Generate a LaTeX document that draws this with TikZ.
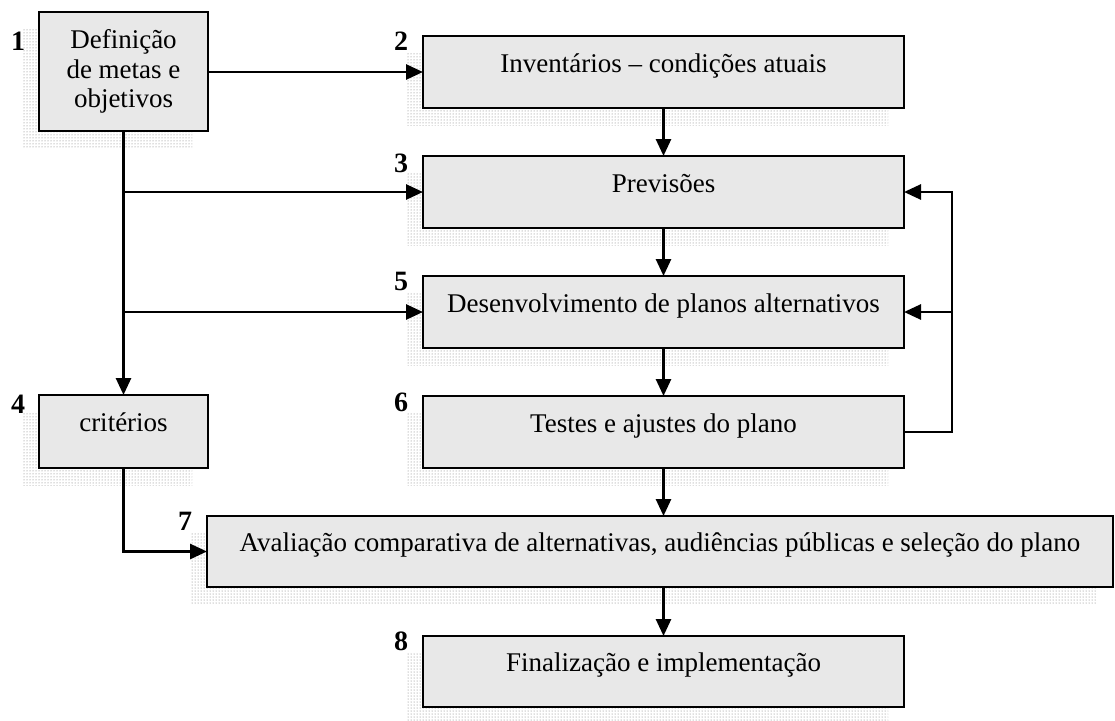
\documentclass[tikz,border=0pt]{standalone}
\usepackage{fontspec}
\setmainfont{Liberation Serif}
\usetikzlibrary{arrows.meta,patterns,backgrounds}
\definecolor{boxfill}{RGB}{232,232,232}
\begin{document}
\begin{tikzpicture}[x=1pt,y=-1pt,
  boxbase/.style={draw=black, line width=2.1pt, fill=boxfill, inner sep=0pt, outer sep=0pt,
    minimum width=481pt, minimum height=72pt, font=\fontsize{27}{29.5}\selectfont},
  box/.style={boxbase, text height=8pt, text depth=8pt},
  num/.style={anchor=base west, inner sep=0pt, font=\fontsize{28}{30}\selectfont\bfseries},
  arr/.style={line width=2.7pt, -{Triangle[length=17pt,width=15pt]}},
  shadepat/.style={pattern=dots, pattern color=black!55}]
\useasboundingbox (0,0) rectangle (1115,720);

% boxes
\node[boxbase, minimum width=169pt, minimum height=119pt, align=center] (b1) at (123.5,71.5)
  {Definição\\de metas e\\objetivos};
\node[box] (b2) at (663.5,72) {Inventários -- condições atuais};
\node[box] (b3) at (663.5,192) {Previsões};
\node[box] (b5) at (663.5,312) {Desenvolvimento de planos alternativos};
\node[box] (b6) at (663.5,432) {Testes e ajustes do plano};
\node[box, minimum width=169pt, minimum height=73pt] (b4) at (123.5,431.5) {critérios};
\node[box, minimum width=906pt, minimum height=71pt] (b7) at (660,551.5)
  {Avaliação comparativa de alternativas, audiências públicas e seleção do plano};
\node[box, minimum height=71pt] (b8) at (663.5,671.5) {Finalização e implementação};

% shadows
\begin{scope}[on background layer]
  \foreach \n in {b1,b2,b3,b4,b5,b6,b7,b8}
    \path[shadepat] ([shift={(-16,17)}]\n.south west) rectangle ([shift={(-16,17)}]\n.north east);
\end{scope}

% numbers
\node[num] (n1) at (11,50) {1};
\node[num] (n2) at (394,50) {2};
\node[num] (n3) at (394,172) {3};
\node[num] (n4) at (11,413) {4};
\node[num] (n5) at (394,290) {5};
\node[num] (n6) at (394,411) {6};
\node[num] (n7) at (178,530) {7};
\node[num] (n8) at (394,650) {8};

% connectors
\draw[arr] (b1.east |- b2.west) -- (b2.west);
\draw[arr] (b1.south) -- (b4.north);
\draw[arr] (b1.south |- b3.west) -- (b3.west);
\draw[arr] (b1.south |- b5.west) -- (b5.west);
\draw[arr] (b2.south) -- (b3.north);
\draw[arr] (b3.south) -- (b5.north);
\draw[arr] (b5.south) -- (b6.north);
\draw[arr] (b6.south) -- (b6.south |- b7.north);
\draw[arr] (b8.north |- b7.south) -- (b8.north);
\coordinate (lp) at ([xshift=48pt]b6.east);
\draw[arr] (b6.east) -- (lp) |- (b3.east);
\draw[arr] (lp |- b5.east) -- (b5.east);
\draw[arr] (b4.south) |- (b7.west);
\end{tikzpicture}
\end{document}
